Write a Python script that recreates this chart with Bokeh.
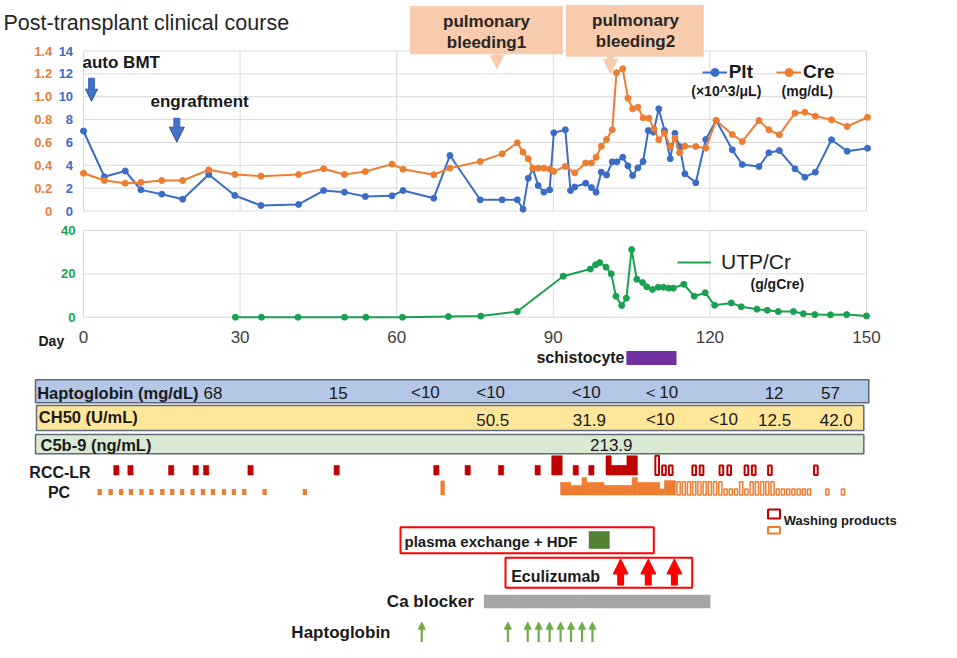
from bokeh.plotting import figure
from bokeh.models import (Range1d, LinearAxis, FixedTicker, PrintfTickFormatter,
                          Arrow, NormalHead, ColumnDataSource, Legend, LegendItem)
from bokeh.core.properties import value
from bokeh.embed import file_html
from bokeh.resources import INLINE

# ---------------- data ----------------
plt_days = [0, 4, 8, 11, 15, 19, 24, 29, 34, 41.2, 46, 50, 54, 59.1, 61.2, 67.1, 70.2, 76, 80.2, 83.1,
            84.2, 85.2, 86.1, 87.1, 88.2, 89.3, 90.1, 92.3, 93.3, 94.1, 96.2, 97.3, 98.2, 99.2, 100.2,
            101.3, 102.2, 103.3, 104.3, 105.2, 106.2, 107.2, 108.2, 109.2, 110.2, 111.3, 112.4, 113.3,
            114.2, 115.2, 117.3, 119.2, 121.2, 124.3, 126.2, 129.4, 131.3, 133.3, 136.3, 138.2, 140.2,
            143.3, 146.3, 150.2]
plt_vals = [7.0, 3.0, 3.5, 1.85, 1.47, 1.03, 3.2, 1.36, 0.48, 0.57, 1.79, 1.65, 1.27, 1.33, 1.79, 1.12,
            4.86, 0.98, 0.98, 0.98, 0.16, 2.87, 3.69, 2.23, 1.65, 1.85, 6.84, 7.1, 1.79, 2.1, 2.43, 2.05,
            1.65, 3.4, 3.15, 4.3, 4.3, 4.7, 3.95, 3.1, 3.78, 4.33, 7.04, 6.9, 8.94, 7.04, 4.57, 6.8, 5.64,
            3.25, 2.47, 6.26, 7.92, 5.35, 4.07, 3.89, 5.09, 5.29, 3.69, 2.96, 3.4, 6.23, 5.23, 5.49]

cre_days = [0, 4, 8, 11, 15, 19, 24, 29, 34, 41.2, 46, 50, 54, 59.1, 61.2, 67.1, 70.2, 76, 80.2, 83.1,
            84.2, 85.2, 86.1, 87.1, 88.2, 89.3, 90.1, 92.3, 94.1, 96.2, 97.3, 98.2, 99.2, 100.2, 101.3,
            102.1, 103.3, 104.3, 105.2, 106.2, 107.2, 108.3, 109.3, 110.2, 111.3, 112.4, 113.3, 114.2,
            115.2, 117.3, 119.2, 121.2, 124.3, 126.2, 129.4, 131.3, 133.3, 136.3, 138.2, 140.2, 143.3,
            146.3, 150.2]
cre_vals = [0.33, 0.267, 0.243, 0.25, 0.267, 0.267, 0.36, 0.32, 0.305, 0.32, 0.37, 0.32, 0.345, 0.41,
            0.366, 0.317, 0.375, 0.433, 0.50, 0.597, 0.515, 0.457, 0.375, 0.375, 0.375, 0.366, 0.346,
            0.39, 0.334, 0.42, 0.42, 0.47, 0.567, 0.626, 0.71, 1.21, 1.244, 0.987, 0.894, 0.908, 0.815,
            0.812, 0.719, 0.623, 0.681, 0.564, 0.637, 0.509, 0.567, 0.564, 0.55, 0.792, 0.669, 0.608,
            0.792, 0.71, 0.667, 0.856, 0.865, 0.83, 0.798, 0.74, 0.82]

utp_days = [29.1, 34.1, 41.1, 50, 54.1, 61.1, 69.9, 76.1, 83.1, 91.9, 97.1, 98.1, 98.9, 100.1, 101.1,
            102.0, 103.1, 104.0, 105.0, 106.0, 107.1, 107.9, 109.0, 110.1, 111.1, 112.1, 113.0, 115.0,
            117.0, 119.1, 120.9, 124.1, 126.0, 129.0, 131.0, 133.1, 136.0, 137.9, 140.1, 143.1, 146.2,
            150.0]
utp_vals = [0, 0, 0, 0, 0, 0, 0.3, 0.5, 2.6, 18.9, 22.2, 24.2, 25.2, 23.1, 20.0, 9.7, 5.4, 8.8, 31.2,
            17.5, 16.0, 14.0, 12.8, 13.8, 13.8, 13.4, 13.4, 15.2, 9.7, 11.3, 5.5, 6.6, 4.8, 3.7, 3.2, 2.6,
            2.6, 1.6, 1.2, 1.1, 1.2, 0.6]

day_ticks = [0, 30, 60, 90, 120, 150]
plt_ticks = [0, 2, 4, 6, 8, 10, 12, 14]
cre_ticks = [0, 0.2, 0.4, 0.6, 0.8, 1.0, 1.2, 1.4]
utp_ticks = [0, 20, 40]

hapto_days = [24.8, 48.8, 65.5, 78.0, 96.3, 110.5, 132.3, 143.1]
hapto_labels = ["68", "15", "<10", "<10", "<10", "＜10", "12", "57"]
ch50_days = [78.4, 96.9, 110.5, 122.6, 132.4, 144.2]
ch50_labels = ["50.5", "31.9", "<10", "<10", "12.5", "42.0"]
c5b9_days = [101.1]
c5b9_labels = ["213.9"]

rcc_days = [6.3, 9.0, 16.8, 21.5, 23.5, 32, 48.5, 67.6, 73.6, 80, 87, 90.2, 91.2, 94.3, 97.3,
            100.6, 101.6, 102.6, 103.6, 104.6, 105.6]
rcc_units = [1, 1, 1, 1, 1, 1, 1, 1, 1, 1, 1, 2, 2, 1, 1, 2, 1, 1, 1, 2, 2]
rcc_wash_days = [109.9, 111.2, 112.5, 117, 118.4, 122.2, 123.7, 127, 128.4, 131.5, 140.3]
rcc_wash_units = [2, 1, 1, 1, 1, 1, 1, 1, 1, 1, 1]

pc_days = [3.1, 5.2, 7.2, 9.1, 11.1, 13.0, 15.1, 17.0, 18.9, 20.9, 22.9, 24.8, 26.9, 28.8, 30.8,
           34.7, 42.4, 68.8]
pc_units = [1, 1, 1, 1, 1, 1, 1, 1, 1, 1, 1, 1, 1, 1, 1, 1, 1, 2.4]
pc_band_start = [91.4, 93.3, 95.5, 96.4, 99.7, 105.1, 106.1, 110.4, 111.3]
pc_band_end = [93.3, 95.5, 96.4, 99.7, 105.1, 106.1, 110.4, 111.3, 113.4]
pc_band_units = [2.1, 1.6, 2.9, 2.1, 1.6, 2.9, 2.1, 1.0, 2.4]
pc_wash_days = [114, 115, 116, 117, 118, 119, 120, 121, 122, 123, 124, 125, 126, 127, 128, 129, 130,
                131, 132, 133, 134, 135, 136, 137, 138, 139, 142.5, 145.5]
pc_wash_units = [2.2] * 9 + [1, 1, 1, 2.2, 1] + [2.2] * 5 + [1] * 7 + [1, 1]

schisto_span = [104.0, 113.6]
pe_span = [96.8, 100.8]
ecu_days = [102.9, 108.2, 113.2]
ca_span = [76.7, 120.1]
hapto_admin_days = [64.8, 81.3, 85.1, 87.2, 89.3, 91.4, 93.4, 95.5, 97.5]

# ---------------- styles ----------------
FONT = "Liberation Sans"
BLACK = "#1a1a1a"
BLUE = "#3B6CC6"
ORANGE = "#ED7D31"
GREEN = "#1AA150"
GRID = "#D9D9D9"
DARKRED = "#C00000"
RED = "#FF0000"

W, H = 941, 642
X0, KX = 83.0, 5.22          # page x of day 0, px per day


def yrange(v0, p0, v1, p1):
    k = (p1 - p0) / (v1 - v0)
    return Range1d(start=v0 + (H - p0) / k, end=v0 + (0 - p0) / k)


p = figure(width=W, height=H, output_backend="svg", toolbar_location=None,
           x_range=Range1d(-X0 / KX, (W - X0) / KX),
           y_range=Range1d(H, 0),
           x_axis_type=None, y_axis_type=None, min_border=0)
p.outline_line_color = None
p.background_fill_color = "white"
p.border_fill_color = "white"
p.extra_x_ranges = {"px": Range1d(0, W)}
p.extra_y_ranges = {
    "plt": yrange(0, 210.5, 14, 50.5),
    "cre": yrange(0, 210.5, 1.4, 50.5),
    "utp": yrange(0, 316.7, 40, 230.0),
    "rcc": yrange(0, 474.5, 1, 464.9),
    "pc": yrange(0, 494.5, 1, 488.5),
}


def txt(x, y, s, size, bold=True, align="left", color=BLACK, xr="px"):
    p.text(x=[x], y=[y], text=[s], x_range_name=xr,
           text_font=value(FONT), text_font_size=f"{size}px",
           text_font_style="bold" if bold else "normal",
           text_align=align, text_baseline="middle", text_color=color)


def arrow(x, y0, y1, size, width, fill, line=None, xr="px"):
    head = NormalHead(size=size, fill_color=fill, line_color=line or fill, line_width=1)
    p.add_layout(Arrow(end=head, x_start=x, x_end=x, y_start=y0, y_end=y1,
                       line_color=fill, line_width=width, x_range_name=xr))


def left_axis(rname, loc, ticks, color, fmt=None):
    ax = LinearAxis(y_range_name=rname, fixed_location=loc, bounds=(ticks[0], ticks[-1]),
                    ticker=FixedTicker(ticks=ticks))
    if fmt:
        ax.formatter = PrintfTickFormatter(format=fmt)
        ax.major_label_overrides = {0: "0"}
    ax.axis_line_color = None
    ax.major_tick_line_color = None
    ax.minor_tick_line_color = None
    ax.major_tick_in = 0
    ax.major_tick_out = 0
    ax.major_label_standoff = 0
    ax.major_label_text_color = color
    ax.major_label_text_font = FONT
    ax.major_label_text_font_style = "bold"
    ax.major_label_text_font_size = "13px"
    p.add_layout(ax, "left")


# ---------------- title ----------------
txt(3, 22, "Post-transplant clinical course", 21.5, bold=False, color="#262626")

# ---------------- top chart: Plt / Cre ----------------
p.segment(x0=0, x1=150, y0=plt_ticks, y1=plt_ticks, y_range_name="plt", line_color=GRID, line_width=1)
p.segment(x0=day_ticks, x1=day_ticks, y0=0, y1=14, y_range_name="plt", line_color=GRID, line_width=1)

l_plt = p.line(plt_days, plt_vals, y_range_name="plt", line_color=BLUE, line_width=2)
s_plt = p.scatter(plt_days, plt_vals, y_range_name="plt", marker="circle", size=6,
                  fill_color=BLUE, line_color=BLUE)
l_cre = p.line(cre_days, cre_vals, y_range_name="cre", line_color=ORANGE, line_width=2)
s_cre = p.scatter(cre_days, cre_vals, y_range_name="cre", marker="circle", size=6,
                  fill_color=ORANGE, line_color=ORANGE)

left_axis("cre", (51.7 - X0) / KX, cre_ticks, ORANGE, fmt="%.1f")
left_axis("plt", (72.6 - X0) / KX, plt_ticks, BLUE)

leg1 = Legend(items=[LegendItem(label="Plt", renderers=[l_plt, s_plt]),
                     LegendItem(label="Cre", renderers=[l_cre, s_cre])],
              location=(701.7, H - 72.3 - 11), orientation="horizontal",
              padding=0, margin=0, spacing=23, glyph_width=25, glyph_height=20,
              label_height=20, label_standoff=2,
              label_text_font=FONT, label_text_font_style="bold", label_text_font_size="19px",
              label_text_color=BLACK, background_fill_alpha=0, border_line_alpha=0)
p.add_layout(leg1)
txt(725.8, 90.7, "(×10^3/μL)", 14, align="center")
txt(806.7, 90.7, "(mg/dL)", 14, align="center")

# annotations on top chart
txt(82, 62, "auto BMT", 17)
arrow(91, 77.3, 100.7, 12, 7, "#4472C4", "#2F528F")
txt(150, 101, "engraftment", 17)
arrow(176.3, 117.3, 141.7, 15, 7, "#4472C4", "#2F528F")

PEACH = "#F8CBAD"
p.quad(left=[410, 566], right=[561.7, 702.7], top=[6, 5], bottom=[53.3, 55.7], x_range_name="px",
       fill_color=PEACH, line_color="#F4B183", line_alpha=0.5)
txt(486, 20.7, "pulmonary", 17, align="center", color="#262626")
txt(486, 41.7, "bleeding1", 17, align="center", color="#262626")
txt(635, 20.0, "pulmonary", 17, align="center", color="#262626")
txt(635, 41.0, "bleeding2", 17, align="center", color="#262626")
arrow(496.5, 53, 68, 13, 6, PEACH)
arrow(610, 55.5, 73, 14, 7, PEACH)

# ---------------- UTP/Cr chart ----------------
p.segment(x0=0, x1=150, y0=utp_ticks, y1=utp_ticks, y_range_name="utp", line_color=GRID, line_width=1)
p.segment(x0=day_ticks, x1=day_ticks, y0=0, y1=40, y_range_name="utp", line_color=GRID, line_width=1)
l_utp = p.line(utp_days, utp_vals, y_range_name="utp", line_color=GREEN, line_width=2)
p.scatter(utp_days, utp_vals, y_range_name="utp", marker="circle", size=6,
          fill_color=GREEN, line_color=GREEN)
left_axis("utp", (75 - X0) / KX, utp_ticks, GREEN)

leg2 = Legend(items=[LegendItem(label="UTP/Cr", renderers=[l_utp])],
              location=(677, H - 261.7 - 12), orientation="horizontal",
              padding=0, margin=0, glyph_width=34, glyph_height=20, label_height=20,
              label_standoff=10, label_text_font=FONT, label_text_font_size="21px",
              label_text_color=BLACK, background_fill_alpha=0, border_line_alpha=0)
p.add_layout(leg2)
txt(750, 283.3, "(g/gCre)", 14)

# x axis (days)
xax = LinearAxis(fixed_location=330.5, ticker=FixedTicker(ticks=day_ticks), bounds=(0, 150))
xax.axis_line_color = None
xax.major_tick_line_color = None
xax.minor_tick_line_color = None
xax.major_tick_in = 0
xax.major_tick_out = 0
xax.major_label_standoff = 0
xax.major_label_text_color = "#404040"
xax.major_label_text_font = FONT
xax.major_label_text_font_size = "17px"
p.add_layout(xax, "below")
txt(38, 340, "Day", 14)

# schistocyte
txt(624, 357, "schistocyte", 16, align="right")
p.quad(left=[schisto_span[0]], right=[schisto_span[1]], top=350.5, bottom=364.5,
       fill_color="#7030A0", line_color=None)

# ---------------- lab table rows ----------------
p.quad(left=[35, 36, 35], right=[868.3, 863.3, 863.3], top=[379.3, 405, 434], bottom=[402.3, 430, 453.3],
       x_range_name="px", fill_color=["#B4C7E7", "#FFE699", "#D9EAD3"], line_color="#5F6B7A",
       line_width=1.5)
txt(36.7, 392.3, "Haptoglobin (mg/dL)", 16.5)
txt(38.3, 416.7, "CH50 (U/mL)", 16.5)
txt(40, 444, "C5b-9 (ng/mL)", 16.5)
vals_style = dict(text_font=value(FONT), text_font_size="17px", text_align="center",
                  text_baseline="middle", text_color=BLACK)
p.text(x=hapto_days, y=392.0, text=hapto_labels, **vals_style)
p.text(x=ch50_days, y=419.0, text=ch50_labels, **vals_style)
p.text(x=c5b9_days, y=444.0, text=c5b9_labels, **vals_style)

# ---------------- transfusions ----------------
txt(59.5, 472.3, "RCC-LR", 16, align="center")
txt(58.5, 491.7, "PC", 16, align="center")
p.vbar(x=rcc_days, width=1.0, top=rcc_units, bottom=0, y_range_name="rcc",
       fill_color=DARKRED, line_color=DARKRED, line_width=0.6)
p.vbar(x=rcc_wash_days, width=0.7, top=rcc_wash_units, bottom=0, y_range_name="rcc",
       fill_color="white", line_color=DARKRED, line_width=2)
p.vbar(x=pc_days, width=0.82, top=pc_units, bottom=0, y_range_name="pc",
       fill_color=ORANGE, line_color=None)
p.quad(left=pc_band_start, right=pc_band_end, top=pc_band_units, bottom=0, y_range_name="pc",
       fill_color=ORANGE, line_color=ORANGE, line_width=0.6)
p.vbar(x=pc_wash_days, width=0.6, top=pc_wash_units, bottom=0, y_range_name="pc",
       fill_color="white", line_color=ORANGE, line_width=1.5)

# washing products legend
p.quad(left=[767.5, 767.5], right=[779.5, 779.5], top=[509, 526.5], bottom=[518, 533],
       x_range_name="px", fill_color="white", line_color=[DARKRED, ORANGE], line_width=2)
txt(783.3, 520, "Washing products", 13)

# ---------------- treatments ----------------
p.quad(left=[400, 505], right=[653.3, 691.7], top=[526.7, 557.3], bottom=[552.7, 587.3],
       x_range_name="px", fill_color=None, line_color=RED, line_width=2)
txt(404, 540.7, "plasma exchange + HDF", 15)
p.quad(left=[pe_span[0]], right=[pe_span[1]], top=530.7, bottom=548.3,
       fill_color="#548235", line_color=None)

txt(510.7, 576, "Eculizumab", 16)
p.add_layout(Arrow(end=NormalHead(size=15, fill_color=RED, line_color=RED),
                   x_start="d", x_end="d", y_start=585, y_end=558.5,
                   source=ColumnDataSource(dict(d=ecu_days)), line_color=RED, line_width=7))

txt(473.3, 600.7, "Ca blocker", 17, align="right")
p.quad(left=[ca_span[0]], right=[ca_span[1]], top=594.3, bottom=607.7,
       fill_color="#A6A6A6", line_color=None)

txt(390, 631.7, "Haptoglobin", 17, align="right")
p.add_layout(Arrow(end=NormalHead(size=7, fill_color="#70AD47", line_color="#70AD47"),
                   x_start="d", x_end="d", y_start=641.7, y_end=621.7,
                   source=ColumnDataSource(dict(d=hapto_admin_days)),
                   line_color="#70AD47", line_width=2.2))

open("out.html", "w").write(file_html(p, INLINE))
